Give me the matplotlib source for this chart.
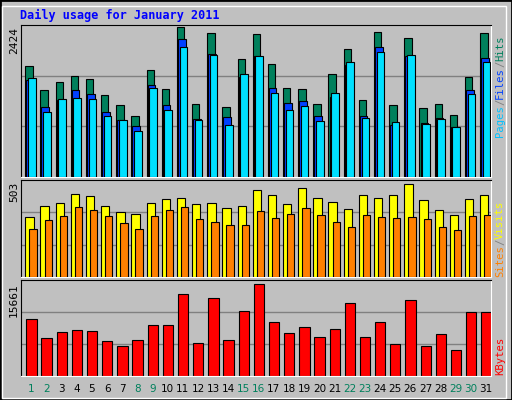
import matplotlib
matplotlib.use("Agg")
import matplotlib.pyplot as plt
from matplotlib.patches import Rectangle

days = list(range(1, 32))
weekend = [1, 2, 8, 9, 15, 16, 22, 23, 29, 30]
hits = [1799,1404,1536,1634,1585,1322,1157,993,1733,1420,2424,1174,2325,1124,1914,2309,
        1832,1437,1420,1174,1667,2062,1239,2342,1157,2243,1108,1174,1009,1618,2325]
files = [1574,1124,1239,1404,1338,1058,927,828,1486,1157,2227,943,1996,976,1618,1963,
         1437,1190,1223,993,1289,1815,993,2095,845,1963,877,960,812,1404,1930]
pages = [1601,1058,1256,1272,1256,993,927,746,1437,1091,2095,927,1980,845,1667,1963,
         1355,1091,1141,910,1355,1865,960,2013,894,1980,861,943,812,1338,1865]
visits = [323,383,399,448,437,383,350,339,399,421,426,394,399,372,383,470,
          443,394,481,426,404,366,443,426,443,503,415,361,333,421,443]
sites = [262,306,328,377,361,328,290,262,328,361,377,312,295,279,284,355,
         317,339,372,333,295,273,333,322,317,322,312,273,257,328,333]
kbytes = [9660,6402,7431,7774,7602,5887,5030,6059,8631,8631,13947,5545,13261,6059,11032,15661,
          9146,7259,8288,6573,7945,12404,6573,9146,5373,12918,5030,7088,4344,10860,10860]

W, H = 512, 400
fig = plt.figure(figsize=(W/100, H/100), dpi=100)
fig.patch.set_facecolor('#C0C0C0')
fig.add_artist(Rectangle((0, 0), 1, 1, transform=fig.transFigure, fill=False, ec='black', lw=2))
fig.add_artist(Rectangle((2/W, 2/H), 1-8/W, 1-8/H, transform=fig.transFigure, fill=False, ec='white', lw=1))

mono = 'DejaVu Sans Mono'
fig.text(20/W, 1-15/H, 'Daily usage for January 2011', color='#0000FF', fontsize=8.5,
         fontweight='bold', family=mono, va='center')

L, R = 20.7, 490.7
def mkax(top, bottom):
    ax = fig.add_axes([L/W, 1-bottom/H, (R-L)/W, (bottom-top)/H])
    ax.set_facecolor('#C0C0C0')
    ax.set_xlim(0, 31)
    ax.set_xticks([]); ax.set_yticks([])
    for s in ['top', 'left']:
        ax.spines[s].set_color('black')
    for s in ['bottom', 'right']:
        ax.spines[s].set_color('white')
    return ax

def grid(ax, ymax):
    for f in (1/3, 2/3):
        ax.axhline(ymax*f, color='#808080', lw=1, zorder=0)

FS = 7.6
CW = FS * 0.602 * 100 / 72  # px per char
def vlabel(bottom, parts):
    y = bottom
    for txt, col in parts:
        fig.text(500/W, 1-y/H, txt, color=col, rotation=90, fontsize=FS, family=mono,
                 ha='center', va='bottom')
        y -= len(txt) * CW

x = [d-1 for d in days]
# top panel
ax1 = mkax(25, 177)
ym = 2424*448/442
ax1.set_ylim(0, ym); grid(ax1, ym)
ax1.bar([i+0.30 for i in x], hits, 0.49, align='edge', color='#00805C', ec='black', lw=0.8, zorder=2)
ax1.bar([i+0.37 for i in x], files, 0.50, align='edge', color='#0040FF', ec='black', lw=0.8, zorder=3)
ax1.bar([i+0.48 for i in x], pages, 0.50, align='edge', color='#00E0FF', ec='black', lw=0.8, zorder=4)
fig.text(14/W, 1-40/H, '2424', rotation=90, fontsize=8, family=mono, ha='center', va='center')
vlabel(137, [('Pages', '#00C0FF'), ('/', '#808080'), ('Files', '#0040FF'),
             ('/', '#808080'), ('Hits', '#00805C')])

# middle panel
ax2 = mkax(180, 277)
ym2 = 503*288/276
ax2.set_ylim(0, ym2); grid(ax2, ym2)
ax2.bar([i+0.30 for i in x], visits, 0.55, align='edge', color='#FFFF00', ec='black', lw=0.8, zorder=2)
ax2.bar([i+0.57 for i in x], sites, 0.48, align='edge', color='#FF8000', ec='black', lw=0.8, zorder=3)
fig.text(14/W, 1-192/H, '503', rotation=90, fontsize=8, family=mono, ha='center', va='center')
vlabel(277, [('Sites', '#FF8000'), ('/', '#808080'), ('Visits', '#FFFF00')])

# bottom panel
ax3 = mkax(280, 376)
ym3 = 15661*286/274
ax3.set_ylim(0, ym3); grid(ax3, ym3)
ax3.bar([i+0.37 for i in x], kbytes, 0.68, align='edge', color='#FF0000', ec='black', lw=0.8, zorder=2)
fig.text(14/W, 1-300/H, '15661', rotation=90, fontsize=8, family=mono, ha='center', va='center')
vlabel(375, [('KBytes', '#FF0000')])

for d in days:
    xp = L + (d-1+0.7)*(R-L)/31
    fig.text(xp/W, 1-389/H, str(d), fontsize=7.5, ha='center', va='center',
             color='#00805C' if d in weekend else 'black')

fig.savefig('out.png', dpi=100, facecolor=fig.get_facecolor())
